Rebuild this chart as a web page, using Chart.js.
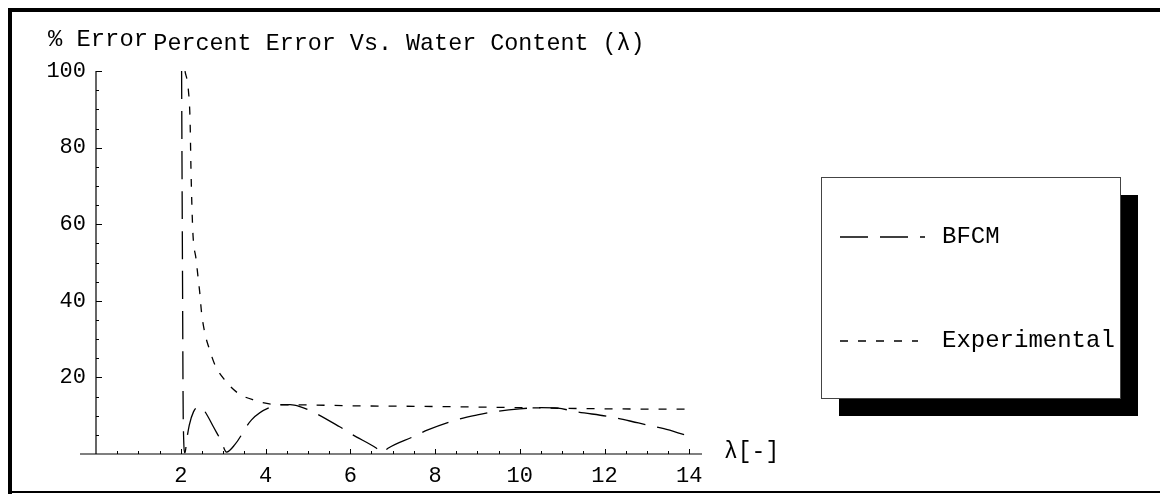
<!DOCTYPE html>
<html>
<head>
<meta charset="utf-8">
<script src="https://cdn.jsdelivr.net/npm/chart.js@4.4.1/dist/chart.umd.min.js"></script>
<style>
  body { margin: 0; background: #fff; }
  canvas { display: block; }
</style>
</head>
<body>
<canvas id="err_chart" width="1160" height="494"></canvas>
<script>
// values
const bfcmLambda = [2.02, 2.04, 2.06, 2.1, 2.14, 2.2, 2.3, 2.41, 2.52, 2.65, 2.77, 2.95, 3.08,
    3.28, 3.67, 4.14, 4.58, 4.81, 5.12, 5.75, 6.06, 6.62, 6.76, 6.89, 7.48, 7.83, 8.5,
    9.0, 9.5, 10.0, 10.5, 10.9, 11.25, 12.2, 12.8, 13.4, 13.9];
const bfcmError = [100, 50, 8, 0.3, 3.6, 7.5, 11, 12.3, 11.8, 9.6, 7.1, 3.5, 0.5,
    2.5, 8.9, 12.3, 12.9, 12.4, 11, 7.1, 5, 1.5, 0.3, 1.5, 4.5, 6.3, 8.9,
    10.2, 11.2, 11.8, 12.1, 12, 11.2, 9.6, 8.1, 6.6, 5];

const expLambda = [2.1, 2.18, 2.22, 2.24, 2.26, 2.29, 2.36, 2.41, 2.45, 2.49, 2.57, 2.67, 2.81,
    3.04, 3.35, 3.75, 4.17, 5, 6, 8, 10, 12, 14];
const expError = [100, 95, 87, 75, 66, 57, 51, 46, 42, 37, 31.5, 27.6, 23.2,
    19.3, 15.9, 14, 13, 12.8, 12.6, 12.4, 12.1, 11.8, 11.7];

const xTicks = [2, 4, 6, 8, 10, 12, 14];
const yTicks = [20, 40, 60, 80, 100];

const FONT = '"Liberation Mono", "Courier New", monospace';

function toPoints(xs, ys) {
    return xs.map((x, i) => ({ x: x, y: ys[i] }));
}

// axes through the origin, small ticks, frame, side legend
const decorPlugin = {
    id: 'decor',
    afterDraw(chart) {
        const ctx = chart.ctx;
        const xs = chart.scales.x;
        const ys = chart.scales.y;
        const x0 = xs.getPixelForValue(0);
        const y0 = ys.getPixelForValue(0);

        ctx.save();
        ctx.strokeStyle = '#000';
        ctx.lineWidth = 1.2;

        // axis lines
        ctx.beginPath();
        ctx.moveTo(x0 - 16, y0);
        ctx.lineTo(xs.right, y0);
        ctx.moveTo(x0, y0);
        ctx.lineTo(x0, ys.getPixelForValue(100));
        ctx.stroke();

        // ticks
        ctx.lineWidth = 1;
        ctx.beginPath();
        for (let v = 0.5; v <= 14.01; v += 0.5) {
            const px = Math.round(xs.getPixelForValue(v)) + 0.5;
            const len = (v % 2 === 0) ? 5 : 3;
            ctx.moveTo(px, y0);
            ctx.lineTo(px, y0 - len);
        }
        for (let v = 5; v <= 100; v += 5) {
            const py = Math.round(ys.getPixelForValue(v)) + 0.5;
            const len = (v % 20 === 0) ? 6 : 3;
            ctx.moveTo(x0, py);
            ctx.lineTo(x0 + len, py);
        }
        ctx.stroke();

        // axis labels
        ctx.fillStyle = '#000';
        ctx.font = '23.8px ' + FONT;
        ctx.textBaseline = 'alphabetic';
        ctx.textAlign = 'left';
        ctx.fillText('% Error', 48, 46);
        ctx.font = '23px ' + FONT;
        ctx.textBaseline = 'middle';
        ctx.fillText('\u03bb[-]', 724, 452);

        // legend with drop shadow
        const lx = 821, ly = 177, lw = 299, lh = 221;
        ctx.fillStyle = '#000';
        ctx.fillRect(lx + 18, ly + 18, lw, lh);
        ctx.fillStyle = '#fff';
        ctx.fillRect(lx, ly, lw, lh);
        ctx.strokeStyle = '#444';
        ctx.lineWidth = 1;
        ctx.strokeRect(lx + 0.5, ly + 0.5, lw, lh);

        const rows = [237, 341];
        const ends = [925, 918];
        chart.data.datasets.forEach((ds, i) => {
            ctx.save();
            ctx.strokeStyle = '#000';
            ctx.lineWidth = ds.borderWidth;
            ctx.setLineDash(ds.borderDash);
            ctx.beginPath();
            ctx.moveTo(840, rows[i]);
            ctx.lineTo(ends[i], rows[i]);
            ctx.stroke();
            ctx.restore();
            ctx.fillStyle = '#000';
            ctx.font = '24px ' + FONT;
            ctx.textBaseline = 'middle';
            ctx.fillText(ds.label, 942, rows[i]);
        });

        // outer frame
        ctx.fillStyle = '#000';
        ctx.fillRect(8, 8, 4, 486);
        ctx.fillRect(8, 8, 1152, 4);
        ctx.fillRect(8, 491, 1152, 2);
        ctx.restore();
    }
};

const errChart = new Chart(document.getElementById('err_chart').getContext('2d'), {
    type: 'line',
    data: {
        datasets: [
            {
                label: 'BFCM',
                data: toPoints(bfcmLambda, bfcmError),
                borderColor: '#000',
                borderWidth: 1.3,
                borderDash: [28, 12],
                pointRadius: 0,
                cubicInterpolationMode: 'monotone',
                fill: false
            },
            {
                label: 'Experimental',
                data: toPoints(expLambda, expError),
                borderColor: '#000',
                borderWidth: 1.3,
                borderDash: [8, 10],
                pointRadius: 0,
                cubicInterpolationMode: 'monotone',
                fill: false
            }
        ]
    },
    options: {
        responsive: false,
        animation: false,
        devicePixelRatio: 1,
        layout: { padding: { top: 0, left: 0, bottom: 0, right: 458 } },
        plugins: {
            legend: { display: false },
            tooltip: { enabled: false },
            title: {
                display: true,
                fullSize: false,
                text: 'Percent Error Vs. Water Content (\u03bb)',
                color: '#000',
                font: { family: FONT, size: 23.4, weight: 'normal' },
                padding: { top: 30, bottom: 13 }
            }
        },
        scales: {
            x: {
                type: 'linear',
                min: 0,
                max: 14.3,
                grid: { display: false },
                border: { display: false },
                ticks: { color: '#000', font: { family: FONT, size: 22 }, padding: 1, autoSkip: false, maxRotation: 0 },
                afterBuildTicks: s => { s.ticks = xTicks.map(v => ({ value: v })); },
                afterFit: s => { s.height = 40; }
            },
            y: {
                type: 'linear',
                min: 0,
                max: 100,
                grid: { display: false },
                border: { display: false },
                ticks: { color: '#000', font: { family: FONT, size: 22 }, padding: 2 },
                afterBuildTicks: s => { s.ticks = yTicks.map(v => ({ value: v })); },
                afterFit: s => { s.width = 96; }
            }
        }
    },
    plugins: [decorPlugin]
});
</script>
</body>
</html>
